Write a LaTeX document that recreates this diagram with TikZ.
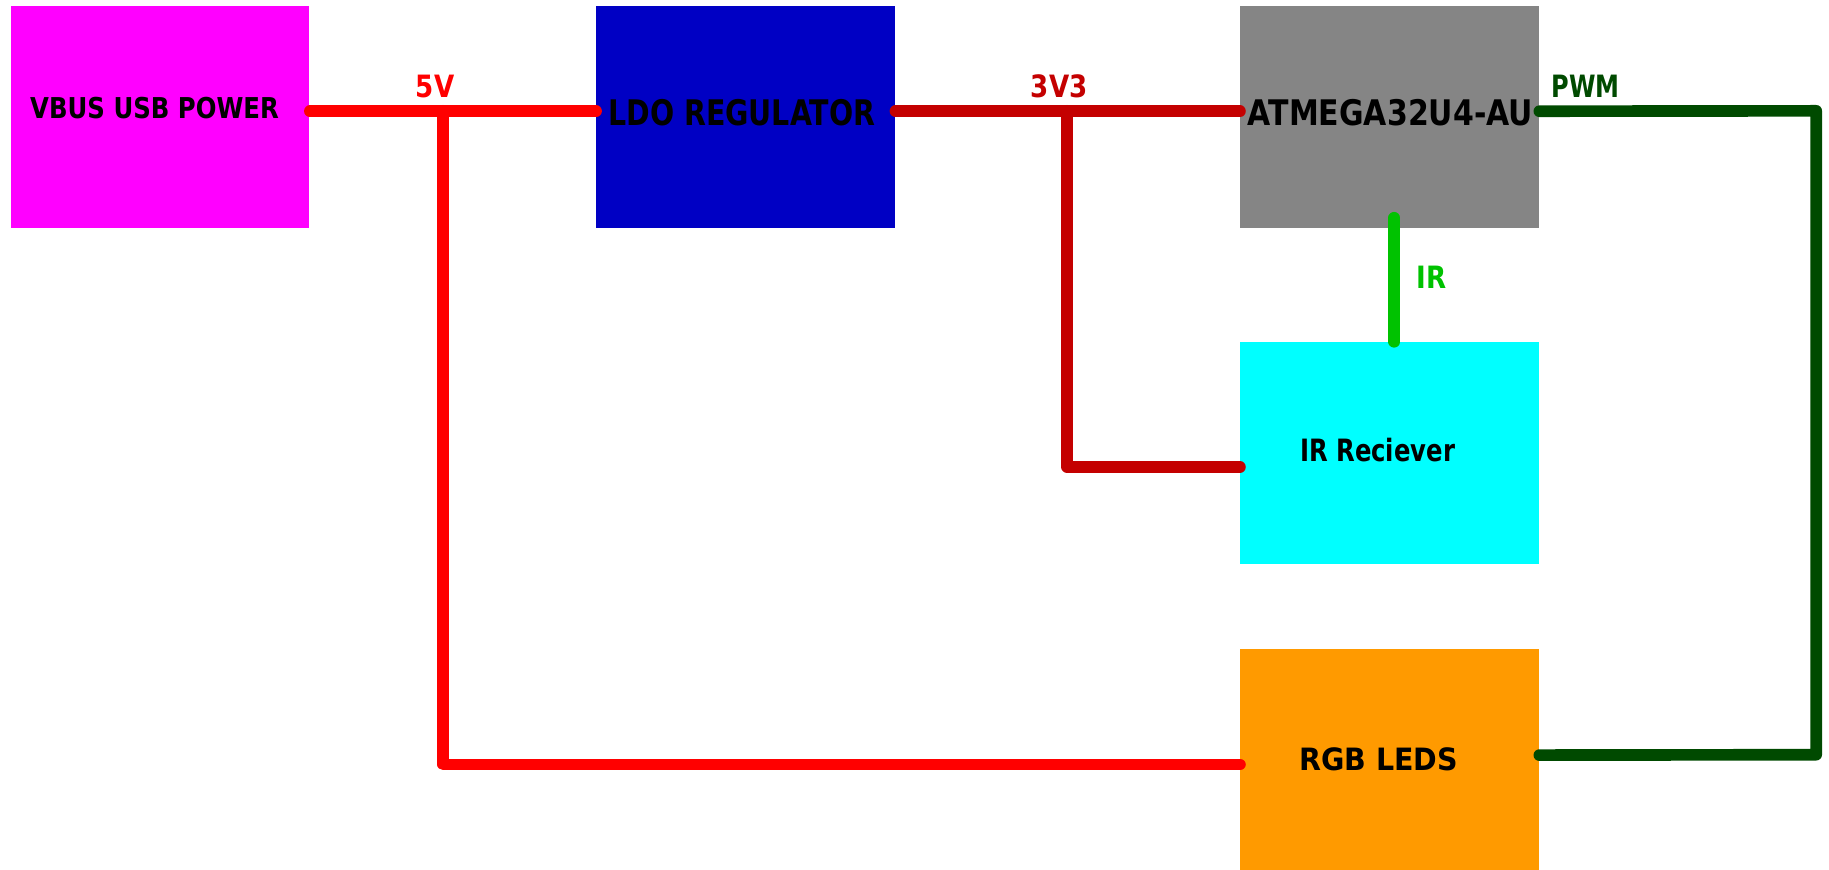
\documentclass[tikz,border=0pt]{standalone}
\usepackage{fontspec}
\newfontfamily\kfont{DejaVu Sans}[FakeStretch=0.85]
\definecolor{vbuscol}{HTML}{FF00FF}
\definecolor{ldocol}{HTML}{0000C4}
\definecolor{mcucol}{HTML}{858585}
\definecolor{ircol}{HTML}{00FFFF}
\definecolor{ledcol}{HTML}{FF9A00}
\definecolor{redfive}{HTML}{FF0000}
\definecolor{redthree}{HTML}{C40000}
\definecolor{irgreen}{HTML}{00C200}
\definecolor{pwmgreen}{HTML}{004A00}
\begin{document}
\begin{tikzpicture}[x=0.02cm,y=-0.02cm,
  blk/.style={rectangle,draw=none,inner sep=0,minimum width=5.12cm,minimum height=3.8cm,anchor=north west},
  wire/.style={line width=0.2cm,line cap=round,line join=round},
  txtS/.style={inner sep=0,font=\kfont\bfseries\fontsize{14}{15}\selectfont},
  txtL/.style={inner sep=0,font=\kfont\bfseries\fontsize{17.2}{18}\selectfont},
  txtM/.style={inner sep=0,font=\kfont\bfseries\fontsize{15}{16}\selectfont},
  lbl/.style={inner sep=0,anchor=base,font=\kfont\bfseries\fontsize{15}{16}\selectfont}]
\useasboundingbox (0,0) rectangle (1568,745);
% blocks
\node[blk,fill=vbuscol] (vbus) at (9,5) {};
\node[blk,fill=ldocol] (ldo) at (511,5) {};
\node[blk,fill=mcucol] (mcu) at (1063,5) {};
\node[blk,fill=ircol] (irr) at (1063,293) {};
\node[blk,fill=ledcol] (led) at (1063,556) {};
% block texts
\node[txtS] (tvbus) at (132.5,93) {VBUS USB POWER};
\node[txtL] (tldo) at (636,97) {\scalebox{0.95}[1]{LDO REGULATOR}};
\node[txtL] (tmcu) at (1192,97) {ATMEGA32U4-AU};
\node[txtM] (tirr) at (1181,386) {\scalebox{0.93}[1]{IR Reciever}};
\node[txtM] (tled) at (1182,651) {\scalebox{1.09}[1]{RGB LEDS}};
% junctions and corners
\coordinate (j5) at (380,95);
\coordinate (j3) at (915,95);
\coordinate (c1) at (1557,95);
\coordinate (c2) at (1557,647);
% 5V net
\draw[wire,redfive] ([yshift=0.1cm]vbus.east) -- ([yshift=0.1cm]ldo.west);
\draw[wire,redfive] (j5) |- ([yshift=-0.08cm]led.west);
% 3V3 net
\draw[wire,redthree] ([yshift=0.1cm]ldo.east) -- ([yshift=0.1cm]mcu.west);
\draw[wire,redthree] (j3) |- ([yshift=-0.24cm]irr.west);
% IR net
\draw[wire,irgreen] ([xshift=0.08cm,yshift=0.18cm]mcu.south) -- ([xshift=0.08cm]irr.north);
% PWM net
\draw[wire,pwmgreen] ([yshift=0.1cm]mcu.east) -- (c1) -- (c2) -- ([yshift=0.08cm]led.east);
% net labels
\node[lbl,text=redfive] (l5) at (373,84) {5V};
\node[lbl,text=redthree] (l3) at (908,84) {3V3};
\node[lbl,text=pwmgreen,anchor=base west] (lpwm) at (1330,84) {\scalebox{0.92}[1]{PWM}};
\node[lbl,text=irgreen,anchor=west] (lir) at (1214,238) {IR};
\end{tikzpicture}
\end{document}
